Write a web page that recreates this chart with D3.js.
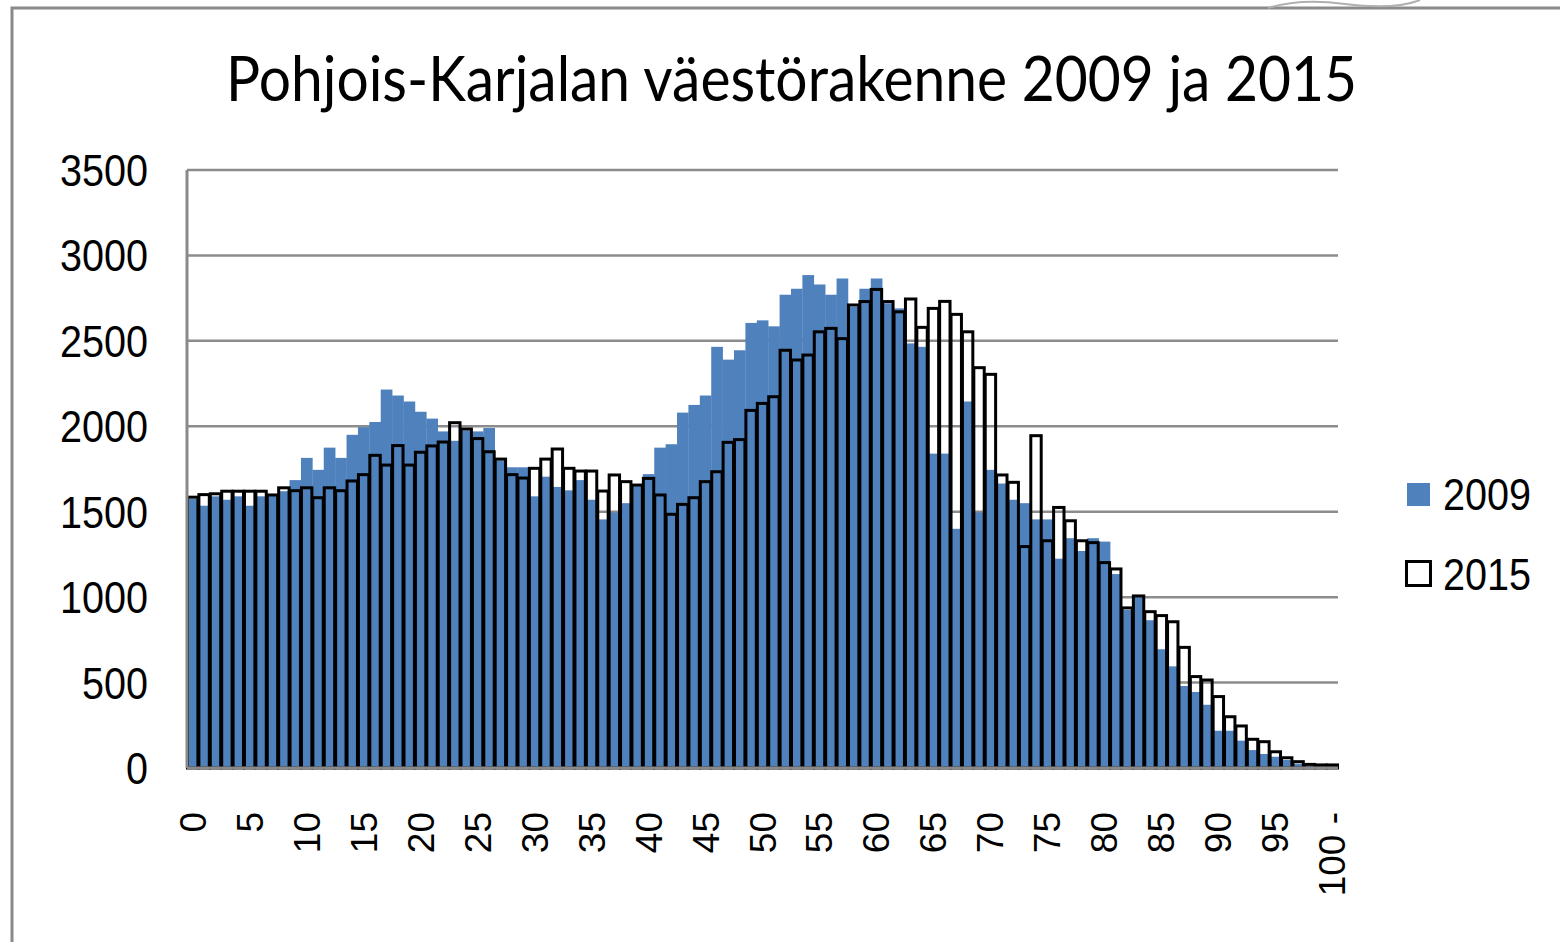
<!DOCTYPE html>
<html>
<head>
<meta charset="utf-8">
<script src="https://cdn.jsdelivr.net/npm/d3@7"></script>
<style>
  body { margin: 0; background: #fff; }
  svg { display: block; }
</style>
</head>
<body>
<div id="chart"></div>
<script>
// age groups 0..99 and "100 -"
var ages = d3.range(0, 100).map(String).concat(["100 -"]);

var pop2009 = [
  1575, 1535, 1590, 1570, 1590, 1535, 1590, 1600, 1620, 1685,
  1815, 1745, 1875, 1815, 1950, 1995, 2025, 2215, 2180, 2145,
  2085, 2045, 1970, 1915, 1975, 1970, 1990, 1800, 1760, 1760,
  1590, 1705, 1645, 1625, 1685, 1570, 1455, 1495, 1550, 1650,
  1720, 1875, 1895, 2080, 2125, 2180, 2465, 2390, 2445, 2605,
  2620, 2585, 2770, 2805, 2885, 2830, 2770, 2865, 2700, 2805,
  2865, 2720, 2690, 2485, 2465, 1840, 1840, 1400, 2145, 1495,
  1745, 1665, 1570, 1550, 1455, 1455, 1225, 1345, 1270, 1345,
  1325, 1135, 925, 1000, 865, 695, 595, 480, 445, 370,
  218, 218, 160, 105, 82, 66, 47, 25, 12, 8,
  10
];

var pop2015 = [
  1585, 1600, 1605, 1620, 1620, 1620, 1620, 1598, 1640, 1623,
  1640, 1582, 1640, 1623, 1680, 1717, 1830, 1773, 1887, 1773,
  1848, 1885, 1908, 2021, 1984, 1928, 1851, 1808, 1717, 1697,
  1754, 1808, 1867, 1754, 1738, 1738, 1621, 1715, 1676, 1656,
  1695, 1598, 1485, 1543, 1582, 1676, 1734, 1906, 1922, 2093,
  2134, 2173, 2445, 2388, 2417, 2553, 2573, 2513, 2710, 2730,
  2801, 2730, 2670, 2745, 2579, 2690, 2731, 2655, 2553, 2343,
  2304, 1715, 1672, 1296, 1945, 1330, 1525, 1447, 1330, 1319,
  1202, 1165, 937, 1007, 915, 892, 856, 706, 535, 515,
  418, 300, 246, 168, 154, 95, 60, 37, 21, 18,
  18
];

var yTicks = [0, 500, 1000, 1500, 2000, 2500, 3000, 3500];
var seriesNames = ["2009", "2015"];

var W = 1560, H = 942;
var plotLeft = 187, plotRight = 1338, plotTop = 170, plotBottom = 768;

var svg = d3.select("#chart").append("svg")
  .attr("width", W)
  .attr("height", H);

// outer frame of the chart object
svg.append("path")
  .attr("d", "M12," + H + " L12,8 L" + W + ",8")
  .attr("fill", "none")
  .attr("stroke", "#8a8a8a")
  .attr("stroke-width", 3);
svg.append("path")
  .attr("d", "M1268,8 Q1300,-2 1345,4 Q1395,10 1420,0")
  .attr("fill", "none")
  .attr("stroke", "#b0b0b0")
  .attr("stroke-width", 2);

var x = d3.scaleBand()
  .domain(ages)
  .range([plotLeft, plotRight])
  .padding(0);

var y = d3.scaleLinear()
  .domain([0, 3500])
  .range([plotBottom, plotTop]);

// gridlines
svg.append("g")
  .selectAll("line")
  .data(yTicks.filter(function(d) { return d > 0; }))
  .join("line")
  .attr("x1", plotLeft)
  .attr("x2", plotRight)
  .attr("y1", function(d) { return y(d); })
  .attr("y2", function(d) { return y(d); })
  .attr("stroke", "#8c8c8c")
  .attr("stroke-width", 2.5);

// 2009 bars, solid blue
svg.append("g")
  .selectAll("rect")
  .data(pop2009)
  .join("rect")
  .attr("x", function(d, i) { return x(ages[i]); })
  .attr("width", x.bandwidth() + 0.3)
  .attr("y", function(d) { return y(d); })
  .attr("height", function(d) { return y(0) - y(d); })
  .attr("fill", "#4f81bd");

// 2015 bars, outline only, on top
svg.append("g")
  .selectAll("rect")
  .data(pop2015)
  .join("rect")
  .attr("x", function(d, i) { return x(ages[i]) + 0.5; })
  .attr("width", x.bandwidth() - 1)
  .attr("y", function(d) { return y(d); })
  .attr("height", function(d) { return y(0) - y(d); })
  .attr("fill", "none")
  .attr("stroke", "#000")
  .attr("stroke-width", 3);

// axes lines
svg.append("line")
  .attr("x1", plotLeft).attr("x2", plotLeft)
  .attr("y1", plotTop).attr("y2", plotBottom)
  .attr("stroke", "#8a8a8a").attr("stroke-width", 3);
svg.append("line")
  .attr("x1", plotLeft).attr("x2", plotRight)
  .attr("y1", plotBottom).attr("y2", plotBottom)
  .attr("stroke", "#8a8a8a").attr("stroke-width", 3);

// y tick labels
svg.append("g")
  .selectAll("text")
  .data(yTicks)
  .join("text")
  .attr("x", 148)
  .attr("y", function(d) { return y(d) + 16; })
  .attr("text-anchor", "end")
  .attr("font-family", "'Liberation Sans', Arial, sans-serif")
  .attr("font-size", 44)
  .attr("textLength", function(d) { return String(d).length * 22; })
  .attr("lengthAdjust", "spacingAndGlyphs")
  .attr("fill", "#000")
  .text(function(d) { return d; });

// x tick labels, every fifth age, rotated
svg.append("g")
  .selectAll("text")
  .data(ages.filter(function(d, i) { return i % 5 === 0; }))
  .join("text")
  .attr("transform", function(d) {
    return "translate(" + (x(d) + x.bandwidth() / 2 + 13) + ",812) rotate(-90)";
  })
  .attr("text-anchor", "end")
  .attr("font-family", "'Liberation Sans', Arial, sans-serif")
  .attr("font-size", 37)
  .attr("fill", "#000")
  .text(function(d) { return d; });

// title
svg.append("text")
  .attr("x", 226)
  .attr("y", 101)
  .attr("font-family", "Lato, 'Open Sans', sans-serif")
  .attr("font-size", 62)
  .attr("textLength", 1131)
  .attr("lengthAdjust", "spacingAndGlyphs")
  .attr("fill", "#000")
  .text("Pohjois-Karjalan väestörakenne 2009 ja 2015");

// legend
var legend = svg.append("g");
legend.append("rect")
  .attr("x", 1407).attr("y", 483)
  .attr("width", 23).attr("height", 23)
  .attr("fill", "#4f81bd");
legend.append("rect")
  .attr("x", 1406.5).attr("y", 561.5)
  .attr("width", 24).attr("height", 24)
  .attr("fill", "none")
  .attr("stroke", "#000")
  .attr("stroke-width", 3);
legend.selectAll("text")
  .data(seriesNames)
  .join("text")
  .attr("x", 1443)
  .attr("y", function(d, i) { return 510 + i * 80; })
  .attr("font-family", "'Liberation Sans', Arial, sans-serif")
  .attr("font-size", 44)
  .attr("textLength", 88)
  .attr("lengthAdjust", "spacingAndGlyphs")
  .attr("fill", "#000")
  .text(function(d) { return d; });
</script>
</body>
</html>
